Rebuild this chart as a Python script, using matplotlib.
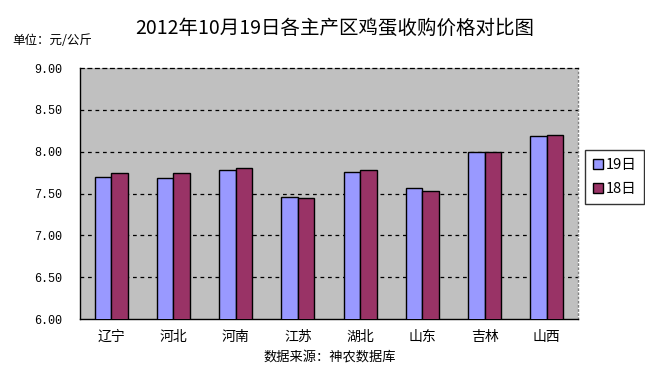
import matplotlib
matplotlib.use("Agg")
import matplotlib.pyplot as plt
import numpy as np

plt.rcParams['font.family'] = ['Noto Sans CJK SC', 'DejaVu Sans']

categories = ["辽宁", "河北", "河南", "江苏", "湖北", "山东", "吉林", "山西"]
series_names = ["19日", "18日"]
values_19 = [7.70, 7.69, 7.78, 7.46, 7.76, 7.56, 8.00, 8.19]
values_18 = [7.74, 7.75, 7.80, 7.45, 7.78, 7.53, 8.00, 8.20]
yticks = [6.00, 6.50, 7.00, 7.50, 8.00, 8.50, 9.00]
title = "2012年10月19日各主产区鸡蛋收购价格对比图"
unit_text = "单位：元/公斤"
source_text = "数据来源：神农数据库"

colors = ["#9999FF", "#993366"]

W, H = 645, 372
fig = plt.figure(figsize=(W / 100, H / 100), dpi=100)
fig.patch.set_facecolor("white")
ax = fig.add_axes([80 / W, (H - 319) / H, (578 - 80) / W, (319 - 68) / H])
ax.set_facecolor("#C0C0C0")

x = np.arange(len(categories))
bw = 0.265
ax.bar(x - bw / 2, values_19, bw, color=colors[0], edgecolor="black", linewidth=1.0,
       label=series_names[0], zorder=3)
ax.bar(x + bw / 2, values_18, bw, color=colors[1], edgecolor="black", linewidth=1.0,
       label=series_names[1], zorder=3)

ax.set_xlim(-0.5, len(categories) - 0.5)
ax.set_ylim(6.0, 9.0)
ax.set_yticks(yticks)
ax.set_yticklabels([f"{v:.2f}" for v in yticks], family="Liberation Mono", fontsize=8.5)
ax.set_xticks(x)
ax.set_xticklabels(categories, fontsize=10)
ax.tick_params(axis="both", length=0)
ax.tick_params(axis="y", pad=13)
ax.tick_params(axis="x", pad=8)

for v in yticks[1:-1]:
    ax.axhline(v, color="black", linestyle=(0, (3, 3)), linewidth=0.9, zorder=1)

ax.spines["left"].set_color("black")
ax.spines["bottom"].set_color("black")
ax.spines["left"].set_linewidth(1.0)
ax.spines["bottom"].set_linewidth(1.0)
ax.spines["top"].set_linestyle((0, (3, 3)))
ax.spines["top"].set_color("black")
ax.spines["top"].set_linewidth(0.9)
ax.spines["right"].set_linestyle((0, (1, 2)))
ax.spines["right"].set_color("#808080")
ax.spines["right"].set_linewidth(1.0)

leg = ax.legend(loc="center left", bbox_to_anchor=(585 / W, 1 - 177 / H),
                bbox_transform=fig.transFigure, frameon=True, fancybox=False,
                fontsize=10.5, handlelength=0.65, handleheight=0.65, handletextpad=0.2,
                borderpad=0.55, labelspacing=0.7, borderaxespad=0)
leg.get_frame().set_edgecolor("black")
leg.get_frame().set_linewidth(1.0)

fig.text(335 / W, 1 - 28 / H, title, ha="center", va="center", fontsize=14)
fig.text(12 / W, 1 - 40 / H, unit_text, ha="left", va="center", fontsize=9)
fig.text(330 / W, 1 - 357 / H, source_text, ha="center", va="center", fontsize=9.5)

fig.savefig("out.png", dpi=100, facecolor="white")
